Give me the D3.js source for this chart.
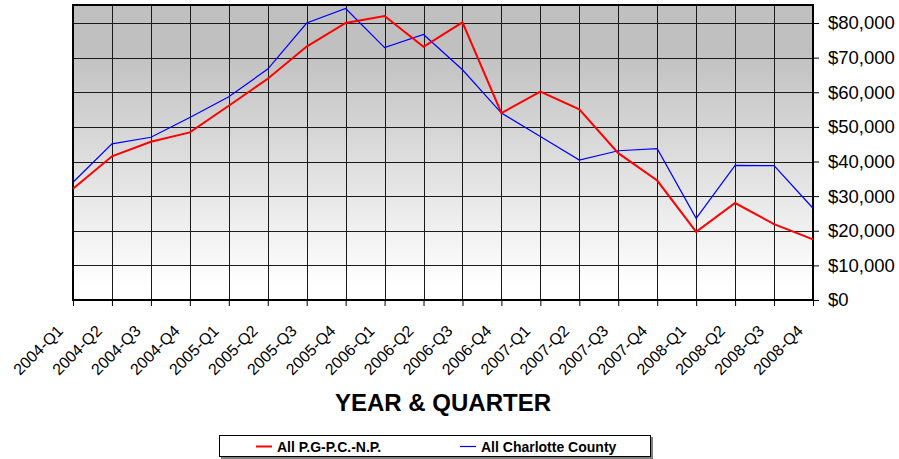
<!DOCTYPE html>
<html>
<head>
<meta charset="utf-8">
<script src="https://cdn.jsdelivr.net/npm/d3@7"></script>
<style>
  body { margin: 0; background: #fff; }
  svg { display: block; font-family: "Liberation Sans", Arial, sans-serif; }
</style>
</head>
<body>
<script>
  var quarters = ["2004-Q1","2004-Q2","2004-Q3","2004-Q4","2005-Q1","2005-Q2","2005-Q3","2005-Q4",
                  "2006-Q1","2006-Q2","2006-Q3","2006-Q4","2007-Q1","2007-Q2","2007-Q3","2007-Q4",
                  "2008-Q1","2008-Q2","2008-Q3","2008-Q4"];
  var pgpcnp = [32100, 41500, 45700, 48400, 56100, 63900, 73200, 80000,
                82000, 73100, 80200, 54000, 60200, 55100, 42400, 34500,
                19700, 28000, 21900, 17500];
  var charlotte = [34000, 45100, 47000, 52700, 58700, 66700, 80000, 84200,
                   72900, 76700, 66500, 54000, 47200, 40400, 43100, 43700,
                   23600, 38900, 38800, 26500];
  var yTicks = [0, 10000, 20000, 30000, 40000, 50000, 60000, 70000, 80000];
  var seriesNames = ["All P.G-P.C.-N.P.", "All Charlotte County"];

  var width = 899, height = 459;
  // plot box (window.top is reserved, so no "top" here)
  var pLeft = 73, pRight = 813, pTop = 5, pBottom = 300;

  var x = d3.scalePoint().domain(quarters).range([pLeft, pRight]);
  var y = d3.scaleLinear().domain([0, 85200]).range([pBottom, pTop]);

  var svg = d3.select("body").append("svg")
      .attr("width", width)
      .attr("height", height);

  var grad = svg.append("defs").append("linearGradient")
      .attr("id", "bg").attr("x1", 0).attr("y1", 0).attr("x2", 0).attr("y2", 1);
  grad.append("stop").attr("offset", "0").attr("stop-color", "#c0c0c0");
  grad.append("stop").attr("offset", "0.15").attr("stop-color", "#c0c0c0");
  grad.append("stop").attr("offset", "0.95").attr("stop-color", "#ffffff");
  grad.append("stop").attr("offset", "1").attr("stop-color", "#ffffff");

  svg.append("rect")
      .attr("x", pLeft).attr("y", pTop)
      .attr("width", pRight - pLeft).attr("height", pBottom - pTop)
      .attr("fill", "url(#bg)");

  // grid
  svg.append("g").selectAll("line")
    .data(yTicks.filter(function(d) { return d > 0; }))
    .enter().append("line")
      .attr("x1", pLeft).attr("x2", pRight)
      .attr("y1", function(d) { return Math.round(y(d)) + 0.5; })
      .attr("y2", function(d) { return Math.round(y(d)) + 0.5; })
      .attr("stroke", "#1a1a1a").attr("stroke-width", 1);

  svg.append("g").selectAll("line")
    .data(quarters.slice(1, -1))
    .enter().append("line")
      .attr("x1", function(d) { return Math.round(x(d)) + 0.5; })
      .attr("x2", function(d) { return Math.round(x(d)) + 0.5; })
      .attr("y1", pTop).attr("y2", pBottom)
      .attr("stroke", "#1a1a1a").attr("stroke-width", 1);

  // frame
  svg.append("rect")
      .attr("x", pLeft).attr("y", pTop)
      .attr("width", pRight - pLeft).attr("height", pBottom - pTop)
      .attr("fill", "none").attr("stroke", "#000").attr("stroke-width", 2);

  // y axis on the right
  var yAxis = svg.append("g")
      .attr("transform", "translate(" + pRight + ",0)")
      .call(d3.axisRight(y).tickValues(yTicks).tickSize(6).tickPadding(9).tickFormat(d3.format("$,")));
  yAxis.select(".domain").remove();
  yAxis.selectAll("line").attr("stroke", "#000");
  yAxis.selectAll("text").attr("font-size", "18.5px").attr("fill", "#000")
      .attr("font-family", "Liberation Sans, Arial, sans-serif");

  // x axis
  var xAxis = svg.append("g")
      .attr("transform", "translate(0," + pBottom + ")")
      .call(d3.axisBottom(x).tickSize(6).tickFormat(""));
  xAxis.select(".domain").remove();
  xAxis.selectAll("line").attr("stroke", "#000");

  svg.append("g").selectAll("text")
    .data(quarters)
    .enter().append("text")
      .attr("transform", function(d) { return "translate(" + (x(d) - 9) + ",332) rotate(-45)"; })
      .attr("text-anchor", "end")
      .attr("font-size", "16px")
      .attr("fill", "#000")
      .text(function(d) { return d; });

  // lines
  var line = d3.line()
      .x(function(d, i) { return x(quarters[i]); })
      .y(function(d) { return y(d); });

  svg.append("path")
      .attr("d", line(charlotte))
      .attr("fill", "none").attr("stroke", "#0000ff").attr("stroke-width", 1.2);

  svg.append("path")
      .attr("d", line(pgpcnp))
      .attr("fill", "none").attr("stroke", "#ff0000").attr("stroke-width", 2);

  // axis title
  svg.append("text")
      .attr("x", 443).attr("y", 411)
      .attr("text-anchor", "middle")
      .attr("font-size", "24px").attr("font-weight", "bold")
      .text("YEAR & QUARTER");

  // legend
  svg.append("rect")
      .attr("x", 221).attr("y", 437).attr("width", 432).attr("height", 22)
      .attr("fill", "#808080");
  svg.append("rect")
      .attr("x", 219.5).attr("y", 435.5).attr("width", 431).attr("height", 21)
      .attr("fill", "#fff").attr("stroke", "#000").attr("stroke-width", 1);

  var legendItems = [
    { name: seriesNames[0], color: "#ff0000", w: 2, x: 256 },
    { name: seriesNames[1], color: "#0000ff", w: 1.2, x: 460 }
  ];
  var lg = svg.append("g").selectAll("g").data(legendItems).enter().append("g");
  lg.append("line")
      .attr("x1", function(d) { return d.x; }).attr("x2", function(d) { return d.x + 16; })
      .attr("y1", 446.5).attr("y2", 446.5)
      .attr("stroke", function(d) { return d.color; })
      .attr("stroke-width", function(d) { return d.w; });
  lg.append("text")
      .attr("x", function(d) { return d.x + 21; })
      .attr("y", 452)
      .attr("font-size", "14px").attr("font-weight", "bold")
      .text(function(d) { return d.name; });
</script>
</body>
</html>
